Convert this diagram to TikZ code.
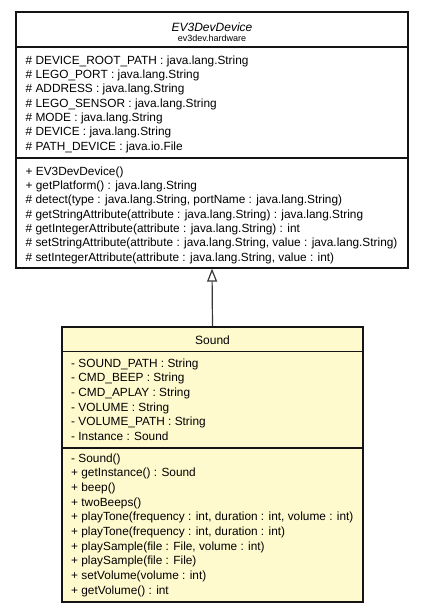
\documentclass[tikz,border=0pt]{standalone}
\usepackage{fontspec}
\setmainfont{Liberation Sans}
\usetikzlibrary{arrows.meta}
\definecolor{umlyellow}{RGB}{255,249,206}
\definecolor{umlline}{RGB}{20,20,20}
\tikzset{
  classbox/.style={draw=umlline, line width=1.2pt, rectangle, inner sep=0pt},
  member/.style={anchor=base west, inner sep=0pt, font=\fontsize{11.85}{14}\selectfont},
  ctitle/.style={anchor=base, inner sep=0pt, font=\fontsize{12}{14}\selectfont},
  pkg/.style={anchor=base, inner sep=0pt, font=\fontsize{9}{11}\selectfont},
  sepline/.style={draw=umlline, line width=1.2pt},
  inherit/.style={draw=umlline!85, line width=1.2pt, -{Triangle[open, length=13pt, width=10pt]}}
}
\begin{document}
\begin{tikzpicture}[x=1pt, y=-1pt]
\useasboundingbox (0,0) rectangle (424,613);
% boxes
\node[classbox, fill=white, minimum width=392pt, minimum height=256pt] (ev3) at (212,140) {};
\node[classbox, fill=umlyellow, minimum width=301pt, minimum height=275pt] (snd) at (212.5,464.5) {};
% separators
\draw[sepline] (16,47) -- (408,47);
\draw[sepline] (16,158) -- (408,158);
\draw[sepline] (62,351.5) -- (363,351.5);
\draw[sepline] (62,448) -- (363,448);
% titles
\node[ctitle] (ev3title) at (212,31.5) {\itshape EV3DevDevice};
\node[pkg] (ev3pkg) at (212,41.5) {ev3dev.hardware};
\node[ctitle] (sndtitle) at (212.5,344.3) {Sound};
% EV3DevDevice attributes
\foreach [count=\i] \t in {
  {\# DEVICE\_ROOT\_PATH : java.lang.String},
  {\# LEGO\_PORT : java.lang.String},
  {\# ADDRESS : java.lang.String},
  {\# LEGO\_SENSOR : java.lang.String},
  {\# MODE : java.lang.String},
  {\# DEVICE : java.lang.String},
  {\# PATH\_DEVICE : java.io.File}}
  \node[member] (ea\i) at (25.5,{64.2+(\i-1)*14.33}) {\t};
% EV3DevDevice methods
\foreach [count=\i] \t in {
  {+ EV3DevDevice()},
  {+ getPlatform() : java.lang.String},
  {\# detect(type : java.lang.String, portName : java.lang.String)},
  {\# getStringAttribute(attribute : java.lang.String) : java.lang.String},
  {\# getIntegerAttribute(attribute : java.lang.String) : int},
  {\# setStringAttribute(attribute : java.lang.String, value : java.lang.String)},
  {\# setIntegerAttribute(attribute : java.lang.String, value : int)}}
  \node[member] (em\i) at (25.5,{175.2+(\i-1)*14.33}) {\t};
% Sound attributes
\foreach [count=\i] \t in {
  {- SOUND\_PATH : String},
  {- CMD\_BEEP : String},
  {- CMD\_APLAY : String},
  {- VOLUME : String},
  {- VOLUME\_PATH : String},
  {- Instance : Sound}}
  \node[member] (sa\i) at (71,{367.2+(\i-1)*14.6}) {\t};
% Sound methods
\foreach [count=\i] \t in {
  {- Sound()},
  {+ getInstance() : Sound},
  {+ beep()},
  {+ twoBeeps()},
  {+ playTone(frequency : int, duration : int, volume : int)},
  {+ playTone(frequency : int, duration : int)},
  {+ playSample(file : File, volume : int)},
  {+ playSample(file : File)},
  {+ setVolume(volume : int)},
  {+ getVolume() : int}}
  \node[member] (sm\i) at (71,{462.2+(\i-1)*14.67}) {\t};
% generalization
\draw[inherit] (snd.north) -- (ev3.south);
\end{tikzpicture}
\end{document}
